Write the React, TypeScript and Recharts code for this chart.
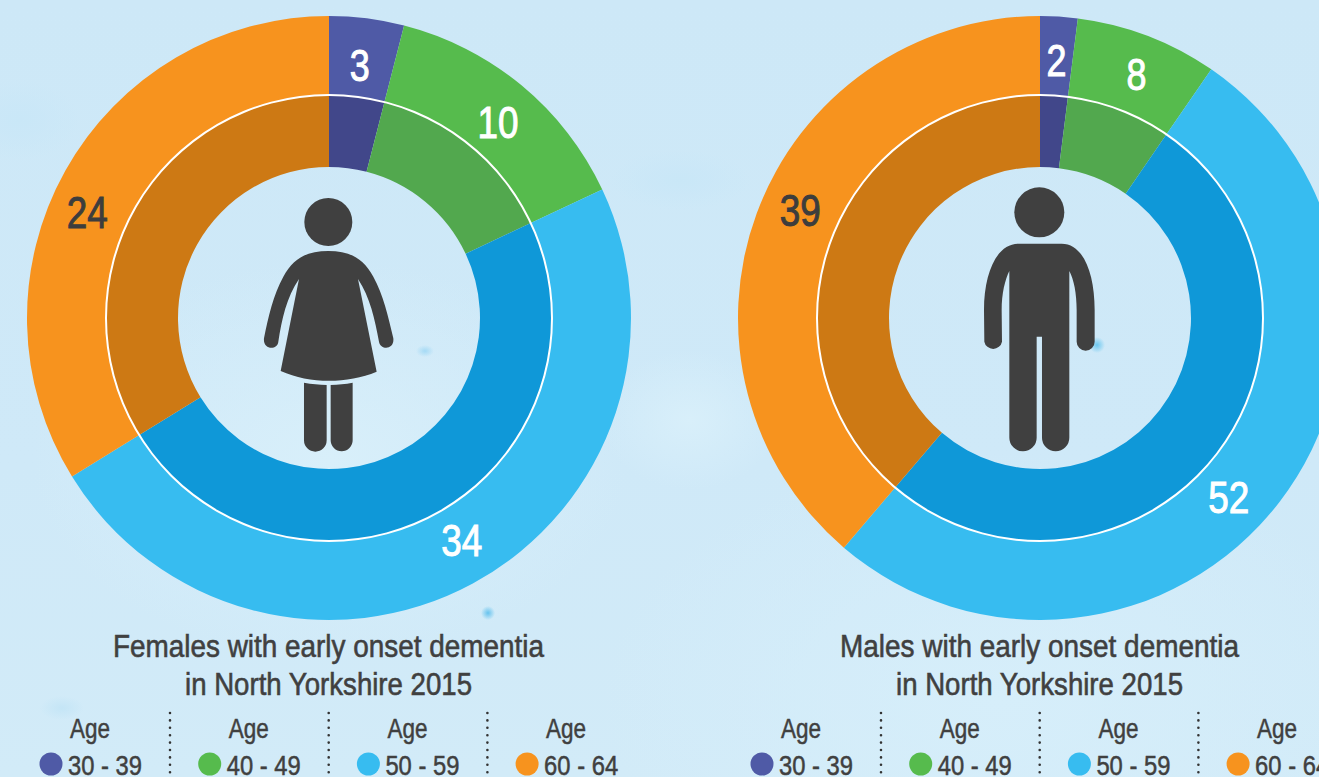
import React from 'react';
import { PieChart, Pie, Cell } from 'recharts';

const AGE_BANDS = ['30 - 39', '40 - 49', '50 - 59', '60 - 64'];
// printed numbers
const FEMALE_COUNTS = [3, 10, 34, 24];
const MALE_COUNTS = [2, 8, 52, 39];
// slice sizes, they differ a little from the printed numbers
const FEMALE_SHARES = [4, 14, 48.2, 33.8];
const MALE_SHARES = [2, 7.6, 51.65, 38.75];

const OUTER_COLORS = ['#4f5aa6', '#56bb4d', '#37bcf0', '#f7931e'];
const INNER_COLORS = ['#41478a', '#52a84e', '#0f98d8', '#cd7914'];
const LABEL_COLORS = ['#ffffff', '#ffffff', '#ffffff', '#3d3d3d'];

// small hand offsets, the labels in the original are not centred in their slices
const FEMALE_NUDGE = [[-2, 7], [2, 6], [8, -8], [-13, 22]];
const MALE_NUDGE = [[0, 4], [3, 1], [-19, 20], [6, -17]];

const FONT = '"Liberation Sans", sans-serif';
const INK = '#404040';

const WIDTH = 1319;
const HEIGHT = 777;

const toRows = (shares: number[], counts: number[]) =>
  shares.map((value, i) => ({ name: AGE_BANDS[i], value, count: counts[i] }));

const makeLabel = (nudge: number[][], counts: number[]) => (props: any) => {
  const { cx, cy, midAngle, outerRadius, index } = props;
  const RADIAN = Math.PI / 180;
  const r = Number(outerRadius) - 40;
  const x = Number(cx) + r * Math.cos(-Number(midAngle) * RADIAN) + nudge[index][0];
  const y = Number(cy) + r * Math.sin(-Number(midAngle) * RADIAN) + nudge[index][1];
  const count = counts[index];
  return (
    <text
      x={x}
      y={y}
      fill={LABEL_COLORS[index]}
      stroke={LABEL_COLORS[index]}
      strokeWidth={1}
      textAnchor="middle"
      dominantBaseline="central"
      textLength={count > 9 ? 41 : 20}
      lengthAdjust="spacingAndGlyphs"
      style={{ fontFamily: FONT, fontSize: 44 }}
    >
      {count}
    </text>
  );
};

function Ring({ cx, shares, counts, nudge }: { cx: number; shares: number[]; counts: number[]; nudge: number[][] }) {
  const rows = toRows(shares, counts);
  return [
    <Pie
      key="outer"
      data={rows}
      dataKey="value"
      cx={cx}
      cy={318}
      startAngle={90}
      endAngle={-270}
      innerRadius={223}
      outerRadius={302}
      stroke="none"
      isAnimationActive={false}
      labelLine={false}
      label={makeLabel(nudge, counts)}
    >
      {rows.map((r, i) => (
        <Cell key={r.name} fill={OUTER_COLORS[i]} />
      ))}
    </Pie>,
    <Pie
      key="inner"
      data={rows}
      dataKey="value"
      cx={cx}
      cy={318}
      startAngle={90}
      endAngle={-270}
      innerRadius={151}
      outerRadius={223}
      stroke="none"
      isAnimationActive={false}
    >
      {rows.map((r, i) => (
        <Cell key={r.name} fill={INNER_COLORS[i]} />
      ))}
    </Pie>,
    <Pie
      key="line"
      data={[{ name: 'line', value: 1 }]}
      dataKey="value"
      cx={cx}
      cy={318}
      startAngle={90}
      endAngle={-270}
      innerRadius={222}
      outerRadius={224}
      fill="#ffffff"
      stroke="none"
      isAnimationActive={false}
    />,
  ];
}

function Female() {
  return (
    <g transform="translate(230 180) scale(0.3333)" fill="#404040">
      <circle cx={295} cy={126} r={72} />
      <path d="M295 213 C230 213 190 235 160 290 C130 345 115 410 102 475 C98 510 142 512 145 485 C155 420 170 350 207 297 L152 573 C240 612 350 612 440 575 L384 297 C420 350 435 420 447 485 C452 512 494 510 490 475 C475 410 460 345 430 290 C400 235 360 213 295 213 Z" />
      <path d="M222 608 C245 612 268 614 290 615 L290 781 A34 34 0 0 1 222 781 Z" />
      <path d="M302 615 C325 614 346 612 368 608 L368 781 A33 33 0 0 1 302 781 Z" />
    </g>
  );
}

function Male() {
  return (
    <g transform="translate(950 170) scale(0.3333)" fill="#404040">
      <circle cx={268} cy={127} r={75} />
      <path d="M205 221 C140 221 102 310 102 420 L103 515 A27 27 0 0 0 156 515 L155 420 C155 370 165 330 178 303 L178 803 A41 41 0 0 0 260 803 L260 500 L276 500 L276 803 A41 41 0 0 0 358 803 L358 303 C372 330 380 370 380 420 L380 515 A27 27 0 0 0 434 515 L434 420 C434 310 400 221 335 221 Z" />
    </g>
  );
}

function Caption({ x, lines, widths }: { x: number; lines: string[]; widths: number[] }) {
  return (
    <g fontFamily={FONT} fill={INK} textAnchor="middle">
      <text x={x - 0.5} y={657} fontSize={32} stroke={INK} strokeWidth={0.6} textLength={widths[0]} lengthAdjust="spacingAndGlyphs">{lines[0]}</text>
      <text x={x - 0.5} y={695} fontSize={32} stroke={INK} strokeWidth={0.6} textLength={widths[1]} lengthAdjust="spacingAndGlyphs">{lines[1]}</text>
      {AGE_BANDS.map((band, i) => {
        const col = x - 239 + i * 158.7;
        return (
          <g key={band}>
            <text x={col} y={738} fontSize={28} stroke={INK} strokeWidth={0.5} textLength={40} lengthAdjust="spacingAndGlyphs">Age</text>
            <circle cx={col - 39} cy={764} r={11.5} fill={OUTER_COLORS[i]} />
            <text x={col + 15} y={775} fontSize={28} stroke={INK} strokeWidth={0.5} textLength={74} lengthAdjust="spacingAndGlyphs">{band}</text>
            {i < 3 ? (
              <line
                x1={col + 80}
                x2={col + 80}
                y1={713}
                y2={777}
                stroke="#333333"
                strokeWidth={2.6}
                strokeLinecap="round"
                strokeDasharray="0 7.4"
              />
            ) : null}
          </g>
        );
      })}
    </g>
  );
}

export default function App() {
  return (
    <div
      style={{
        position: 'absolute',
        left: 0,
        top: 0,
        width: WIDTH,
        height: HEIGHT,
        overflow: 'hidden',
        background: [
          'radial-gradient(ellipse 9px 6px at 425px 351px, #a5daf5, transparent)',
          'radial-gradient(circle 7px at 488px 613px, #66c3ee, transparent)',
          'radial-gradient(circle 8px at 1097px 345px, #6cc8f0, transparent)',
          'radial-gradient(ellipse 22px 12px at 62px 708px, #c4e5f6, transparent)',
          'radial-gradient(ellipse 60px 40px at 20px 120px, #c9e7f7, transparent)',
          'radial-gradient(ellipse 70px 30px at 680px 180px, #c9e7f7, transparent)',
          'radial-gradient(ellipse 90px 70px at 690px 420px, #d8effa, transparent)',
          'radial-gradient(ellipse 300px 200px at 330px 460px, #d8effa, transparent)',
          'radial-gradient(ellipse 400px 250px at 1000px 700px, #d6eefa, transparent)',
          'linear-gradient(180deg, #cde8f7 0%, #cfe9f8 60%, #d2ebf8 100%)',
        ].join(','),
      }}
    >
      <PieChart
        width={WIDTH}
        height={HEIGHT}
        margin={{ top: 0, right: 0, bottom: 0, left: 0 }}
        style={{ position: 'absolute', left: 0, top: 0 }}
      >
        {Ring({ cx: 329, shares: FEMALE_SHARES, counts: FEMALE_COUNTS, nudge: FEMALE_NUDGE })}
        {Ring({ cx: 1040, shares: MALE_SHARES, counts: MALE_COUNTS, nudge: MALE_NUDGE })}
      </PieChart>
      <svg width={WIDTH} height={HEIGHT} style={{ position: 'absolute', left: 0, top: 0 }}>
        <Female />
        <Male />
        <Caption x={329} lines={['Females with early onset dementia', 'in North Yorkshire 2015']} widths={[431, 287]} />
        <Caption x={1040} lines={['Males with early onset dementia', 'in North Yorkshire 2015']} widths={[399, 287]} />
      </svg>
    </div>
  );
}
